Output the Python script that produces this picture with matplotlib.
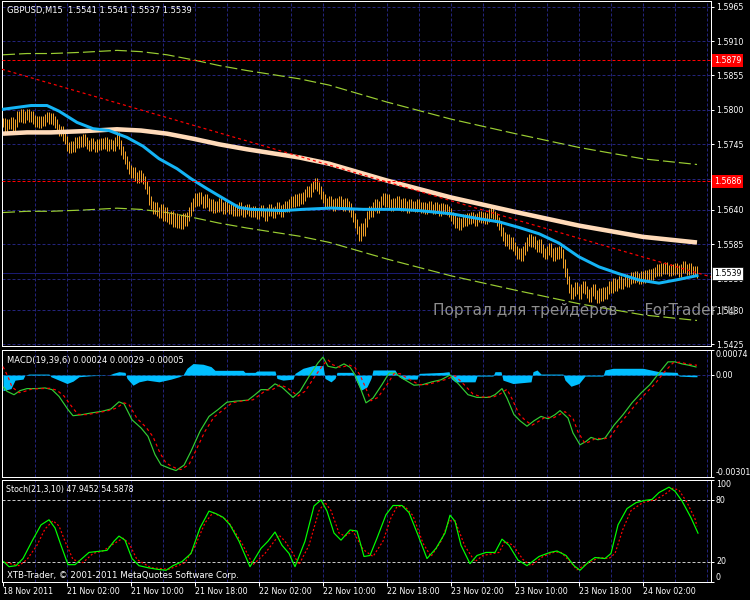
"""GBPUSD M15 chart in MetaTrader style: price bars with MAs/envelopes,
MACD(19,39,6) and Stoch(21,3,10) sub-windows. Saves out.png (750x600)."""

import matplotlib
matplotlib.use("Agg")
import matplotlib.pyplot as plt
import numpy as np

W, H = 750, 600
plt.rcParams["lines.scale_dashes"] = False
plt.rcParams["font.family"] = ["DejaVu Sans"]

# ---------------------------------------------------------------- data
# closes, one per M15 bar, in pips above 1.5000
CLOSES = [
    780, 772, 778, 776, 782, 774, 779, 792, 788, 794, 786, 791, 795, 788, 792, 785,
    780, 784, 778, 783, 781, 787, 790, 784, 788, 783, 778, 770, 765, 768, 758, 752,
    742, 738, 744, 740, 750, 746, 752, 748, 754, 749, 745, 742, 748, 744, 740, 746,
    743, 748, 744, 750, 742, 747, 745, 741, 750, 758, 745, 735, 728, 720, 712, 705,
    698, 702, 694, 690, 697, 692, 688, 680, 672, 655, 648, 640, 646, 638, 634, 642,
    630, 637, 628, 624, 632, 620, 628, 618, 625, 617, 628, 622, 630, 638, 645, 652,
    660, 654, 662, 656, 650, 658, 652, 645, 650, 642, 648, 644, 652, 646, 641, 648,
    643, 640, 644, 637, 642, 638, 645, 639, 636, 641, 643, 638, 635, 640, 636, 632,
    638, 641, 635, 630, 637, 642, 638, 634, 640, 645, 641, 636, 643, 648, 644, 650,
    655, 652, 658, 654, 660, 656, 662, 667, 672, 668, 676, 680, 684, 678, 672, 664,
    658, 652, 648, 655, 650, 645, 652, 648, 655, 650, 646, 652, 648, 644, 636, 628,
    618, 608, 598, 612, 605, 620, 632, 640, 636, 645, 650, 642, 648, 655, 660, 652,
    658, 650, 645, 652, 648, 655, 650, 646, 652, 648, 642, 650, 645, 648, 644, 650,
    646, 642, 645, 640, 644, 648, 643, 640, 646, 642, 638, 644, 640, 643, 639, 636,
    630, 625, 618, 622, 615, 620, 626, 622, 628, 625, 630, 626, 622, 628, 632, 626,
    630, 624, 628, 634, 638, 632, 628, 622, 615, 605, 598, 590, 595, 585, 590, 582,
    575, 568, 572, 565, 575, 582, 590, 595, 588, 592, 585, 580, 586, 578, 572, 568,
    575, 580, 572, 566, 574, 568, 575, 570, 555, 540, 528, 515, 505, 510, 518, 512,
    505, 515, 520, 512, 506, 500, 510, 515, 505, 498, 508, 502, 510, 505, 512, 520,
    515, 525, 518, 522, 528, 520, 525, 530, 524, 528, 534, 530, 536, 532, 528, 535,
    531, 537, 533, 538, 535, 540, 542, 546, 541, 548, 544, 550, 545, 541, 547, 543,
    549, 545, 540, 546, 551, 547, 543, 548, 544, 541, 543, 539,
]
WICK = 7

# fast MA (blue) and slow MA (beige), read at a few bars
BLUE_BARS = [0, 14, 22, 28, 37, 45, 53, 62, 70, 78, 87, 94, 102, 112, 118, 124, 140,
             150, 164, 180, 198, 208, 224, 238, 248, 258, 268, 278, 288, 298, 308,
             318, 328, 338, 347]
BLUE_VALS = [801, 807, 807, 798, 780, 770, 767, 756, 742, 722, 706, 690, 674, 655,
             644, 641, 639, 641, 643, 641, 641, 639, 634, 626, 621, 612, 602, 587,
             565, 549, 538, 528, 523, 529, 535]
BEIGE_BARS = [0, 12, 24, 40, 57, 69, 82, 95, 108, 122, 148, 163, 192, 224, 256,
              288, 320, 347]
BEIGE_VALS = [762, 764, 764, 766, 769, 767, 762, 754, 745, 737, 724, 714, 687, 660,
              637, 615, 597, 588]
ENVELOPE_PCT = 0.8

TREND_BARS = [-0.5, 354]
TREND_PRICES = [1.5865, 1.5533]
RED_LEVELS = [1.5879, 1.5686]
LAST_PRICE = 1.5539
PRICE_TICKS = [1.5965, 1.5910, 1.5855, 1.5800, 1.5745, 1.5690, 1.5640, 1.5585,
               1.5530, 1.5480, 1.5425]

# MACD main / signal / histogram in units of 1e-5
MACD_BARS = [0.3, 2, 5.5, 8.5, 12, 16.5, 21, 24.5, 28, 32.5, 35, 39.5, 44, 49.5, 54,
             58, 60.5, 64.5, 69, 72.5, 76, 79, 83.5, 86.5, 90.5, 94, 98.5, 103, 107.5,
             112, 116.5, 122.5, 126, 129, 132.5, 136, 139.5, 145, 148.5, 153, 157.5,
             160, 162.5, 166.5, 170.5, 173.5, 176, 179, 181.5, 185, 189.5, 193, 196,
             199.5, 205.5, 210, 214.5, 219, 223.5, 228, 232.5, 237, 243, 246, 249.5,
             252, 255.5, 258.5, 262, 265.5, 269, 272.5, 276, 278.5, 282.5, 285, 288.5,
             291.5, 294, 297.5, 301, 305.5, 310, 314.5, 319, 323.5, 328, 332.5, 336,
             339.5, 343, 346.5]
MACD_VALS = [-36, -48, -58, -46, -40, -40, -38, -43, -63, -102, -120, -117, -112, -107,
             -100, -79, -85, -132, -156, -181, -235, -265, -276, -282, -266, -225, -166,
             -122, -102, -80, -77, -74, -58, -43, -43, -26, -36, -66, -48, -4, 36, 53,
             26, 21, 33, 23, 1, -43, -82, -68, -28, 6, 6, -9, -30, -28, -20, -14, 0,
             -28, -58, -66, -66, -58, -40, -68, -117, -135, -151, -135, -122, -129,
             -117, -105, -127, -171, -206, -196, -184, -191, -186, -148, -117, -82,
             -53, -28, 6, 39, 39, 33, 29, 24]
SIG_BARS = [0, 2.5, 4.5, 8, 11, 14.5, 19, 23.5, 27, 30.5, 35, 37.5, 42, 46.5, 52, 56.5,
            60.5, 63, 67, 71.5, 75, 78.5, 81.5, 86, 89, 93, 96.5, 101, 105.5, 110,
            114.5, 119, 125, 128.5, 131.5, 135, 138.5, 142, 147.5, 151, 155.5, 160,
            162.5, 165, 169, 173, 176, 178.5, 181.5, 184, 187.5, 192, 195.5, 198.5,
            202, 208, 212.5, 217, 221.5, 226, 230.5, 235, 239.5, 245.5, 248.5, 252,
            254.5, 258, 261, 264.5, 268, 271.5, 275, 278.5, 281, 285, 287.5, 291, 294,
            296.5, 300, 303.5, 308, 312.5, 317, 321.5, 326, 330.5, 335, 338.5, 342,
            345.5, 347]
SIG_VALS = [25, -5, -35, -52, -48, -41, -40, -39, -45, -62, -98, -116, -117, -112, -106,
            -98, -82, -87, -128, -154, -182, -230, -260, -274, -279, -264, -222, -166,
            -124, -103, -82, -77, -73, -58, -45, -42, -29, -37, -62, -48, -8, 30, 45,
            30, 22, 30, 22, 0, -40, -76, -66, -28, 4, 4, -9, -28, -28, -20, -13, -2,
            -28, -56, -65, -64, -56, -42, -70, -115, -133, -148, -136, -123, -127,
            -116, -108, -128, -168, -202, -195, -186, -189, -184, -146, -115, -82,
            -53, -26, 8, 36, 38, 33, 30, 29]
HIST_BARS = [0, 4, 6, 10, 11, 13, 23, 24, 28, 32, 35, 38, 44, 53, 55, 58, 61, 62, 65,
             68, 72, 78, 84, 88, 90, 92, 95, 100, 104, 106, 120, 121, 126, 127, 136,
             137, 140, 145, 146, 150, 155, 160, 161, 164, 166, 167, 175, 176, 179, 182,
             184, 185, 196, 198, 200, 207, 208, 220, 223, 224, 226, 236, 237, 245, 246,
             249, 250, 255, 264, 265, 267, 269, 280, 281, 284, 288, 291, 300, 301, 305,
             320, 328, 337, 338, 345, 347]
HIST_VALS = [-46, -40, -15, -12, 0, 3, 3, -5, -15, -25, -18, -5, -2, 0, 5, 10, 8, -10,
             -30, -20, -15, -20, -12, -5, 0, 20, 34, 32, 25, 14, 14, 8, 8, 12, 12, -10,
             -15, -12, 5, 20, 28, 28, -10, -20, -10, 8, 8, -10, -45, -35, -10, 15, 15,
             -5, -12, -12, 5, 8, 10, -10, -20, -20, -3, -3, 10, 10, -15, -25, -20, 10,
             15, 3, 3, -15, -33, -25, -3, -3, 15, 20, 20, 10, 8, -3, -5, -5]
MACD_TOP, MACD_BOTTOM = 0.00074, -0.00301

# Stochastic main (%K) and signal
STOCH_BARS = [0.3, 3, 6.5, 10, 14.5, 19, 23, 26, 29, 32.5, 36, 39.5, 43, 47.5, 52, 55.5,
              58, 61, 64.5, 68, 72.5, 77, 81.5, 85, 89.5, 94, 98.5, 103, 106.5, 110,
              113.5, 118, 123.5, 129, 132.5, 136, 139.5, 143, 146, 151, 155.5, 159, 162,
              165.5, 169, 173.5, 177, 180.5, 183.5, 187, 191.5, 195, 199.5, 203, 207.5,
              212, 216.5, 221, 223.5, 226, 229, 233.5, 237, 241.5, 246, 249.5, 253,
              257.5, 262, 268, 273.5, 277, 281.5, 285.5, 288.5, 293, 296, 301, 304,
              307.5, 312, 316.5, 321, 324.5, 328, 333, 336, 339.5, 344, 347.5]
STOCH_VALS = [20, 15, 16, 23, 40, 56, 61, 53, 36, 17, 17, 23, 29, 30, 31, 40, 45, 41, 23,
              16, 14, 12.5, 11.5, 16, 20, 28, 53, 69.5, 67, 63.5, 56, 40, 15, 33, 40, 49,
              36, 28, 15, 40, 74.5, 80.4, 69.5, 48, 41, 51, 50, 25, 26, 43, 66, 75, 75,
              68, 46, 23, 33, 48, 65.5, 59.6, 36, 18, 26, 29, 29, 42, 36, 21.5, 16, 25,
              29, 30.4, 26, 16, 11.5, 20, 24, 23, 28, 56, 72, 77.8, 80, 81, 87.7, 93, 89,
              79.4, 63, 47.9]
STOCH_SIG_BARS = [1.5, 8, 12, 17, 21, 25, 28, 31, 35, 40, 45, 50, 55, 60, 63, 67, 74, 83,
                  91, 96, 101, 105, 112, 116, 120, 125, 131, 138, 141, 145, 148, 153, 158,
                  161, 164, 168, 171, 175, 180, 185, 190, 194, 197, 201, 205, 210, 214,
                  219, 223, 226, 231, 236, 240, 248, 251, 255, 260, 264, 270, 276, 279,
                  284, 287, 292, 298, 303, 306, 310, 314, 320, 326, 331, 335, 338, 342,
                  346, 347]
STOCH_SIG_VALS = [19, 16, 22, 36, 52, 60, 55, 40, 22, 19, 28, 30.5, 37, 43, 38, 22, 14,
                  12.5, 19, 35, 58, 68, 61, 49, 36, 17, 28, 46, 40, 28, 17, 36, 70, 78,
                  70, 48, 45, 50, 32, 25, 40, 63, 74, 74, 65, 38, 25, 40, 60, 60, 35, 20,
                  26, 29, 40, 36, 22, 16, 25, 29.5, 29, 19, 12, 18, 24, 23, 28, 52, 70,
                  78, 80.5, 86, 92, 90, 78, 62, 54.6]

XTICK_BARS = [0, 32, 64, 96, 128, 160, 192, 224, 256, 288, 320]
XTICK_LABELS = ["18 Nov 2011", "21 Nov 02:00", "21 Nov 10:00", "21 Nov 18:00",
                "22 Nov 02:00", "22 Nov 10:00", "22 Nov 18:00", "23 Nov 02:00",
                "23 Nov 10:00", "23 Nov 18:00", "24 Nov 02:00"]

GRID = "#23237a"
FS = 6.0      # header / caption text
FS_AX = 5.7   # axis labels


def px(n):
    """pixels -> points at dpi 100"""
    return n * 0.72


def pip(v):
    return 1.5 + np.asarray(v, dtype=float) / 10000.0


def panel(fig, x0, y0, x1, y1):
    ax = fig.add_axes([x0 / W, 1 - y1 / H, (x1 - x0) / W, (y1 - y0) / H])
    ax.set_facecolor("black")
    for s in ax.spines.values():
        s.set_color("white")
        s.set_linewidth(px(1))
    ax.set_xlim(-0.5, 354)
    ax.tick_params(axis="x", bottom=False, labelbottom=False)
    ax.yaxis.tick_right()
    ax.tick_params(axis="y", colors="white", length=px(3), width=px(1),
                   pad=px(2), labelsize=FS_AX)
    for b in range(16, 355, 16):
        ax.axvline(b, color=GRID, lw=px(1), dashes=(px(3), px(2)), zorder=0.5)
    return ax


def hline(ax, y, color, dashes=(px(3), px(2)), z=0.5):
    ax.axhline(y, color=color, lw=px(1), dashes=dashes, zorder=z)


def draw_price(fig):
    ax = panel(fig, 2, 1, 711, 346)
    ax.set_ylim(1.54225, 1.59741)
    ax.set_yticks(PRICE_TICKS)
    ax.set_yticklabels([f"{v:.4f}" for v in PRICE_TICKS])
    for v in PRICE_TICKS:
        hline(ax, v, GRID)

    beige = pip(BEIGE_VALS)
    k = ENVELOPE_PCT / 100.0
    for env in (beige * (1 + k), beige * (1 - k)):
        ax.plot(BEIGE_BARS, env, color="#9acd32", lw=px(1.2),
                dashes=(px(12), px(4)), zorder=2)

    closes = pip(CLOSES)
    opens = np.r_[closes[0], closes[:-1]]
    highs = np.maximum(opens, closes) + WICK / 10000.0
    lows = np.minimum(opens, closes) - WICK / 10000.0
    bars = np.arange(len(closes))
    ax.vlines(bars, lows, highs, color="#f0a028", lw=px(1), zorder=3)

    ax.plot(BEIGE_BARS, beige, color="#ffdab9", lw=px(4.5), zorder=4,
            solid_capstyle="butt")
    ax.plot(BLUE_BARS, pip(BLUE_VALS), color="#14b4f5", lw=px(3), zorder=5)

    ax.plot(TREND_BARS, TREND_PRICES, color="#ff0000", lw=px(1.2),
            dashes=(px(3), px(3)), zorder=6)
    for lvl in RED_LEVELS:
        hline(ax, lvl, "#ff0000", z=6)
    ax.axhline(LAST_PRICE, color="#1a1a70", lw=px(1), zorder=1)

    tr = ax.get_yaxis_transform()
    for lvl in RED_LEVELS:
        ax.text(1 + 3 / 709, lvl, f"{lvl:.4f}", transform=tr, ha="left",
                va="center", fontsize=FS_AX, color="white", clip_on=False,
                zorder=20,
                bbox=dict(boxstyle="square,pad=0.25", fc="#ff0000", ec="none"))
    ax.text(1 + 3 / 709, LAST_PRICE, f"{LAST_PRICE:.4f}", transform=tr, ha="left",
            va="center", fontsize=FS_AX, color="black", clip_on=False, zorder=20,
            bbox=dict(boxstyle="square,pad=0.25", fc="white", ec="black", lw=0.5))
    return ax


def draw_macd(fig):
    ax = panel(fig, 2, 350, 711, 477)
    ax.set_ylim(MACD_BOTTOM, MACD_TOP)
    ax.set_yticks([MACD_BOTTOM, 0, MACD_TOP])
    ax.set_yticklabels(["-0.00301", "0.00", "0.00074"])
    for lab, va in zip(ax.get_yticklabels(), ["bottom", "center", "top"]):
        lab.set_va(va)
    hline(ax, 0, GRID)
    ax.fill_between(HIST_BARS, 0, np.array(HIST_VALS) * 1e-5, color="#00bfff",
                    lw=0, zorder=2)
    ax.plot(MACD_BARS, np.array(MACD_VALS) * 1e-5, color="#32cd32", lw=px(1.2),
            zorder=3)
    ax.plot(SIG_BARS, np.array(SIG_VALS) * 1e-5, color="#ff0000", lw=px(1.2),
            dashes=(px(3), px(3)), zorder=4)
    return ax


def draw_stoch(fig):
    ax = panel(fig, 2, 480, 711, 582)
    ax.set_ylim(0, 100)
    ax.set_yticks([0, 20, 80, 100])
    ax.set_yticklabels(["0", "20", "80", "100"])
    for lab, va in zip(ax.get_yticklabels(), ["bottom", "center", "center", "top"]):
        lab.set_va(va)
    for lvl in (20, 80):
        hline(ax, lvl, "#c8c8c8", z=1)
    ax.plot(STOCH_SIG_BARS, STOCH_SIG_VALS, color="#ff0000", lw=px(1.2),
            dashes=(px(2), px(2)), zorder=3)
    ax.plot(STOCH_BARS, STOCH_VALS, color="#00ff00", lw=px(1.2), zorder=4)

    ax.tick_params(axis="x", bottom=True, labelbottom=True, colors="white",
                   length=px(4), width=px(1), pad=px(1), labelsize=FS_AX)
    ax.set_xticks(XTICK_BARS)
    ax.set_xticklabels(XTICK_LABELS, ha="left")
    return ax


def main():
    fig = plt.figure(figsize=(W / 100, H / 100), dpi=100, facecolor="black")
    draw_price(fig)
    draw_macd(fig)
    draw_stoch(fig)

    def ftext(x, y, s, **kw):
        kw.setdefault("color", "white")
        kw.setdefault("fontsize", FS)
        fig.text(x / W, 1 - y / H, s, va="center", ha="left", zorder=30, **kw)

    ftext(7, 10, "GBPUSD,M15  1.5541 1.5541 1.5537 1.5539")
    ftext(7, 361, "MACD(19,39,6) 0.00024 0.00029 -0.00005")
    ftext(6, 489.5, "Stoch(21,3,10) 47.9452 54.5878", fontsize=5.7)
    ftext(7, 575, "XTB-Trader, \u00a9 2001-2011 MetaQuotes Software Corp.",
          fontsize=6.2)
    ftext(433, 310.5, "Портал для трейдеров  \u2013  ForTrader.ru",
          color="#8e8e8e", fontsize=11)

    fig.savefig("out.png", dpi=100, facecolor="black")
    plt.close(fig)


if __name__ == "__main__":
    main()
